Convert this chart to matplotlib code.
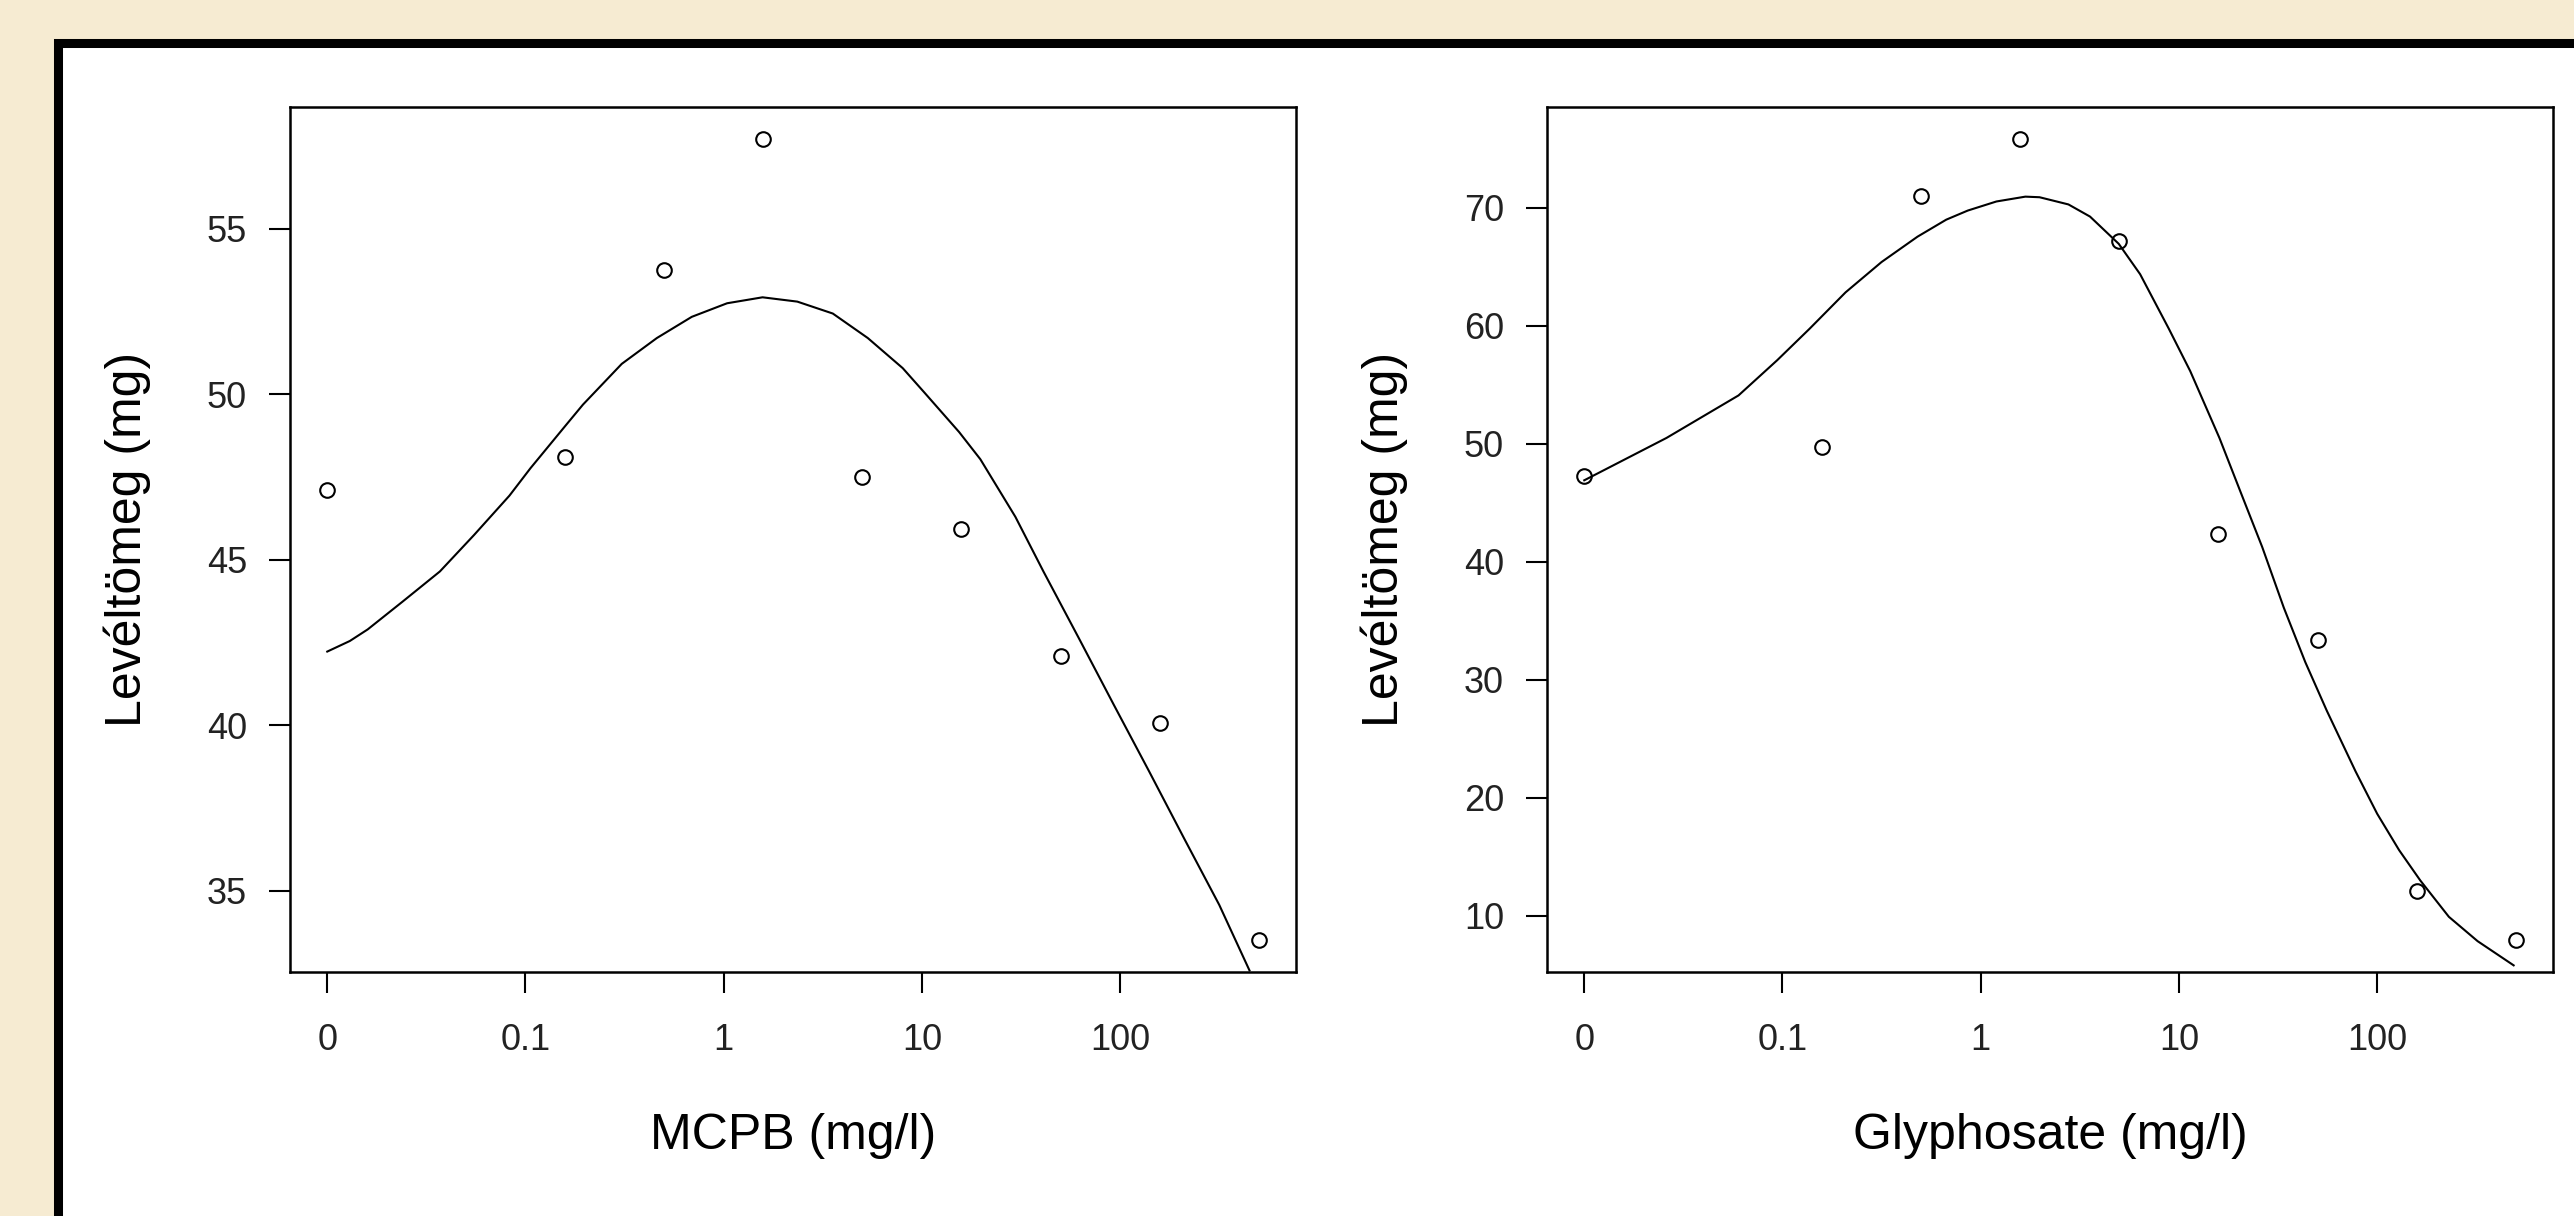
import numpy as np
import matplotlib
matplotlib.use("Agg")
from matplotlib import pyplot as plt
from matplotlib.patches import Rectangle

plt.rcParams['font.family'] = ['Liberation Sans', 'DejaVu Sans']

# dose series (mg/l), 0 = untreated control
doses = [0, 0.158, 0.5, 1.58, 5, 15.8, 50, 158, 500]

mcpb_mass = [47.11, 48.10, 53.75, 57.71, 47.51, 45.93, 42.09, 40.07, 33.52]
glyph_mass = [47.28, 49.69, 70.98, 75.80, 67.18, 42.36, 33.39, 12.11, 7.95]

# fitted curves
mcpb_curve_x = [0, 0.013, 0.016, 0.024, 0.037, 0.055, 0.083, 0.106, 0.159, 0.195,
                0.306, 0.46, 0.69, 1.04, 1.57, 2.35, 3.55, 5.33, 8.0, 10.3,
                15.4, 19.7, 29.6, 41.0, 61.8, 92.9, 140, 210, 316, 449]
mcpb_curve_y = [42.23, 42.55, 42.90, 43.74, 44.65, 45.75, 46.94, 47.77, 49.05, 49.69,
                50.92, 51.70, 52.34, 52.75, 52.93, 52.80, 52.44, 51.70, 50.79, 50.05,
                48.86, 48.04, 46.30, 44.65, 42.64, 40.62, 38.61, 36.59, 34.58, 32.60]

glyph_curve_x = [0, 0.026, 0.060, 0.094, 0.137, 0.208, 0.316, 0.48, 0.67, 0.86,
                 1.20, 1.68, 1.98, 2.77, 3.56, 4.97, 6.37, 8.89, 11.4, 16.0,
                 20.5, 26.3, 33.8, 43.4, 55.7, 77.8, 100, 129, 165, 230, 321, 488]
glyph_curve_y = [46.89, 50.48, 54.08, 57.06, 59.73, 62.81, 65.38, 67.53, 68.97, 69.74,
                 70.51, 70.92, 70.87, 70.26, 69.23, 66.92, 64.35, 59.73, 56.14, 50.48,
                 45.86, 41.24, 36.10, 31.48, 27.37, 22.23, 18.64, 15.56, 12.99, 9.91,
                 7.85, 5.80]

x_ticks = [0, 0.1, 1, 10, 100]
x_ticklabels = ['0', '0.1', '1', '10', '100']
mcpb_yticks = [35, 40, 45, 50, 55]
glyph_yticks = [10, 20, 30, 40, 50, 60, 70]

y_label = 'Levéltömeg (mg)'


def to_pos(d):
    # log10 position, the control (0) sits one decade below 0.1
    d = np.asarray(d, dtype=float)
    return np.log10(np.where(d == 0, 0.01, d))


def r_lim(vals):
    lo, hi = min(vals), max(vals)
    r = hi - lo
    return lo - 0.04 * r, hi + 0.04 * r


W, H = 2574, 1216
fig = plt.figure(figsize=(W / 100, H / 100), dpi=100)
fig.patch.set_facecolor('#F6EBD2')

# white panel with black frame, behind the plots
fig.patches.append(Rectangle((58 / W, -0.05), 1.2, 1 - 43 / H + 0.05,
                             transform=fig.transFigure, facecolor='white',
                             edgecolor='black', linewidth=6.5, zorder=-5))

# (axes left px, ylabel centre px, ...)
panels = [
    (290, 127, doses, mcpb_mass, mcpb_curve_x, mcpb_curve_y, mcpb_yticks, 'MCPB (mg/l)'),
    (1547, 1384, doses, glyph_mass, glyph_curve_x, glyph_curve_y, glyph_yticks, 'Glyphosate (mg/l)'),
]

for left, ylab_x, xd, yd, cx, cy, yt, xlabel in panels:
    ax = fig.add_axes([left / W, (H - 972) / H, 1006 / W, 865 / H])
    ax.set_zorder(1)
    ax.set_facecolor('white')
    ax.plot(to_pos(cx), cy, color='black', linewidth=1.5, clip_on=True)
    ax.plot(to_pos(xd), yd, linestyle='none', marker='o', markersize=10.5,
            markerfacecolor='none', markeredgecolor='black', markeredgewidth=1.5)
    ax.set_xlim(*r_lim(list(to_pos(xd))))
    ax.set_ylim(*r_lim(yd))
    ax.set_xticks(to_pos(x_ticks))
    ax.set_xticklabels(x_ticklabels)
    ax.set_yticks(yt)
    ax.tick_params(axis='both', direction='out', length=15, width=1.5,
                   labelsize=26, colors='black', labelcolor='#222222')
    ax.tick_params(axis='x', pad=22)
    ax.tick_params(axis='y', pad=16)
    for s in ax.spines.values():
        s.set_linewidth(1.8)
    ax.set_xlabel(xlabel, fontsize=36, va='center')
    ax.xaxis.set_label_coords(0.5, -0.19)
    ax.set_ylabel(y_label, fontsize=36, va='center')
    ax.yaxis.set_label_coords((ylab_x - left) / 1006, 0.5)

plt.savefig('out.png', dpi=100, facecolor=fig.get_facecolor())
